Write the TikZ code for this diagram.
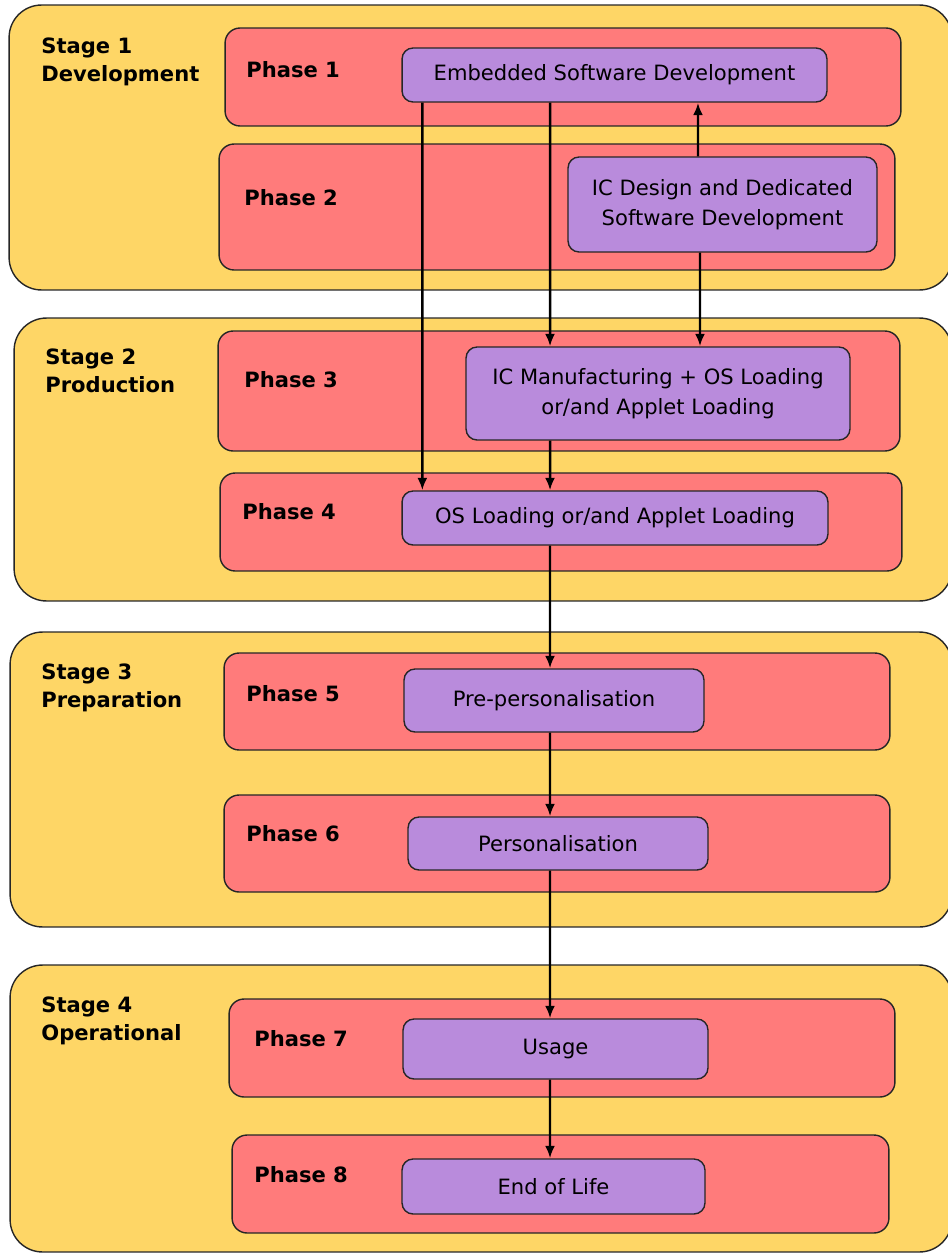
\documentclass[tikz,border=0pt]{standalone}
\usepackage{fontspec}
\setmainfont{DejaVu Sans}
\usetikzlibrary{arrows.meta}
\definecolor{stagecol}{RGB}{254,214,102}
\definecolor{phasecol}{RGB}{255,123,123}
\definecolor{taskcol}{RGB}{185,139,220}
\begin{document}
\begin{tikzpicture}[x=0.02cm, y=-0.02cm,
  stage node/.style={rectangle, rounded corners=0.65cm, draw=black!85, fill=stagecol, line width=0.8pt, inner sep=0},
  phase node/.style={rectangle, rounded corners=0.3cm, draw=black!85, fill=phasecol, line width=0.8pt, inner sep=0},
  task node/.style={rectangle, rounded corners=0.22cm, draw=black!85, fill=taskcol, line width=0.8pt, align=center, inner sep=0, font=\fontsize{12}{17}\selectfont},
  title node/.style={anchor=north west, inner sep=0, align=left, font=\bfseries\fontsize{12}{16}\selectfont},
  arr/.style={-{Latex[length=2.5mm,width=2mm]}, line width=1.4pt}]
  \useasboundingbox (0,0) rectangle (947,1254);

  % stages
  \node[stage node, minimum width=18.86cm, minimum height=5.7cm] (s1) at (480.5,147.5) {};
  \node[stage node, minimum width=18.76cm, minimum height=5.66cm] (s2) at (483,459.5) {};
  \node[stage node, minimum width=18.84cm, minimum height=5.9cm] (s3) at (481,779.5) {};
  \node[stage node, minimum width=18.84cm, minimum height=5.74cm] (s4) at (481,1108.5) {};
  \node[title node] (t1) at (41,37) {Stage 1\\Development};
  \node[title node] (t2) at (45,348) {Stage 2\\Production};
  \node[title node] (t3) at (41,663) {Stage 3\\Preparation};
  \node[title node] (t4) at (41,996) {Stage 4\\Operational};

  % phases
  \node[phase node, minimum width=13.52cm, minimum height=1.96cm] (p1) at (563,77) {};
  \node[phase node, minimum width=13.52cm, minimum height=2.52cm] (p2) at (557,207) {};
  \node[phase node, minimum width=13.64cm, minimum height=2.4cm] (p3) at (559,391) {};
  \node[phase node, minimum width=13.64cm, minimum height=1.96cm] (p4) at (561,522) {};
  \node[phase node, minimum width=13.32cm, minimum height=1.94cm] (p5) at (557,701.5) {};
  \node[phase node, minimum width=13.32cm, minimum height=1.94cm] (p6) at (557,843.5) {};
  \node[phase node, minimum width=13.32cm, minimum height=1.96cm] (p7) at (562,1048) {};
  \node[phase node, minimum width=13.14cm, minimum height=1.96cm] (p8) at (560.5,1184) {};
  \node[title node] (l1) at (246,61) {Phase 1};
  \node[title node] (l2) at (244,189) {Phase 2};
  \node[title node] (l3) at (244,371) {Phase 3};
  \node[title node] (l4) at (242,503) {Phase 4};
  \node[title node] (l5) at (246,685) {Phase 5};
  \node[title node] (l6) at (246,825) {Phase 6};
  \node[title node] (l7) at (254,1030) {Phase 7};
  \node[title node] (l8) at (254,1166) {Phase 8};

  % tasks
  \node[task node, minimum width=8.5cm, minimum height=1.08cm] (emb) at (614.5,75) {Embedded Software Development};
  \node[task node, minimum width=6.18cm, minimum height=1.9cm] (icd) at (722.5,204.5) {IC Design and Dedicated\\Software Development};
  \node[task node, minimum width=7.68cm, minimum height=1.86cm] (icm) at (658,393.5) {IC Manufacturing + OS Loading\\or/and Applet Loading};
  \node[task node, minimum width=8.52cm, minimum height=1.08cm] (osl) at (615,518) {OS Loading or/and Applet Loading};
  \node[task node, minimum width=6cm, minimum height=1.26cm] (pre) at (554,700.5) {Pre-personalisation};
  \node[task node, minimum width=6cm, minimum height=1.06cm] (pers) at (558,843.5) {Personalisation};
  \node[task node, minimum width=6.1cm, minimum height=1.2cm] (use) at (555.5,1049) {Usage};
  \node[task node, minimum width=6.06cm, minimum height=1.1cm] (eol) at (553.5,1186.5) {End of Life};

\path[arr] ([xshift=0.42cm]emb.south west) edge ([xshift=0.42cm]osl.north west)
([xshift=-1.29cm]emb.south) edge ([xshift=-2.16cm]icm.north)
([xshift=-0.49cm]icd.north) edge ([xshift=1.67cm]emb.south)
([xshift=-0.45cm]icd.south) edge ([xshift=0.84cm]icm.north)
([xshift=-2.16cm]icm.south) edge ([xshift=-1.3cm]osl.north)
([xshift=-1.3cm]osl.south) edge ([xshift=-0.08cm]pre.north)
([xshift=-0.08cm]pre.south) edge ([xshift=-0.16cm]pers.north)
([xshift=-0.16cm]pers.south) edge ([xshift=-0.11cm]use.north)
([xshift=-0.11cm]use.south) edge ([xshift=-0.07cm]eol.north);
\end{tikzpicture}
\end{document}
